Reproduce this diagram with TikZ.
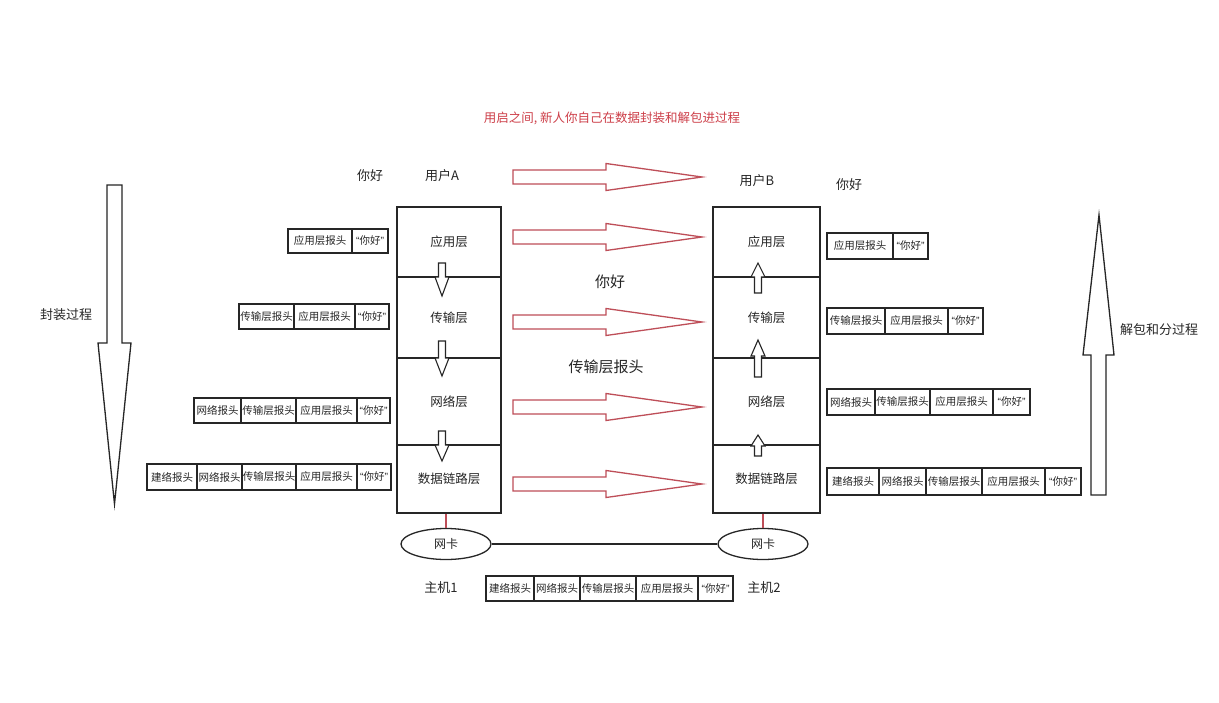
\documentclass[tikz,border=0pt]{standalone}
\usepackage{fontspec}
\setmainfont{Noto Sans CJK SC}
\newfontfamily\latinq{Liberation Sans}
\usetikzlibrary{shapes.geometric}
\definecolor{arrred}{RGB}{190,78,88}
\definecolor{titred}{RGB}{205,62,72}
\definecolor{ink}{RGB}{38,38,38}
\tikzset{
  layer/.style={draw=ink, line width=1.3pt, rectangle, inner sep=0pt, font=\fontsize{12.5}{14}\selectfont, text=ink},
  hdr/.style={draw=ink, line width=1.15pt, rectangle, inner sep=0pt, font=\fontsize{10.5}{12}\selectfont, text=ink},
  redarrow/.style={draw=arrred, line width=1.3pt, line join=miter},
  bigarrow/.style={draw=ink, line width=1.3pt, line join=miter},
  smallarrow/.style={draw=ink, line width=1.1pt, fill=white, line join=miter},
  nic/.style={draw=ink, line width=1.3pt, ellipse, minimum width=90pt, minimum height=31pt, inner sep=0pt, font=\fontsize{12}{14}\selectfont, text=ink},
  wire/.style={draw=arrred, line width=1.3pt},
  link/.style={draw=ink, line width=1.3pt},
  lbl/.style={font=\fontsize{13}{15}\selectfont, text=ink, inner sep=0pt},
  midlbl/.style={font=\fontsize{15}{17}\selectfont, text=ink, inner sep=0pt},
  titlelbl/.style={font=\fontsize{12.5}{15}\selectfont, text=titred, inner sep=0pt}
}
\newcommand{\qhi}{{\latinq “}你好{\latinq ”}}
\newcommand{\hdrbox}[6]{\node[hdr, minimum width={(#3-#2)*1pt}, minimum height={(#5-#4)*1pt}] (#1) at ({(#2+#3)/2},{(#4+#5)/2}) {#6};}
\newcommand{\layerbox}[6]{\node[layer, minimum width={(#3-#2)*1pt}, minimum height={(#5-#4)*1pt}] (#1) at ({(#2+#3)/2},{(#4+#5)/2}) {#6};}
% red hollow right arrow centred at y=#1
\newcommand{\redarr}[1]{\draw[redarrow] (513,{#1-7}) -- (606,{#1-7}) -- (606,{#1-13.5}) -- (702,#1) -- (606,{#1+13.5}) -- (606,{#1+7}) -- (513,{#1+7}) -- cycle;}
% small down arrow: x, shaft top, head base, tip
\newcommand{\downarr}[4]{\draw[smallarrow] ({#1-3.5},#2) -- ({#1+3.5},#2) -- ({#1+3.5},#3) -- ({#1+7},#3) -- (#1,#4) -- ({#1-7},#3) -- ({#1-3.5},#3) -- cycle;}
% small up arrow: x, tip, head base, shaft bottom
\newcommand{\uparr}[4]{\draw[smallarrow] (#1,#2) -- ({#1+7},#3) -- ({#1+3.5},#3) -- ({#1+3.5},#4) -- ({#1-3.5},#4) -- ({#1-3.5},#3) -- ({#1-7},#3) -- cycle;}
\begin{document}
\begin{tikzpicture}[x=1pt,y=-1pt]
\useasboundingbox[fill=white] (0,0) rectangle (1219,702);

% title
\node[titlelbl] (title) at (612,118) {用启之间, 新人你自己在数据封装和解包进过程};

% top labels
\node[lbl] (hiA) at (370,176) {你好};
\node[lbl] (userA) at (442,176) {用户A};
\node[lbl] (userB) at (757,181) {用户B};
\node[lbl] (hiB) at (849,185) {你好};

% left stack
\layerbox{L1}{397}{501}{207}{277}{应用层}
\layerbox{L2}{397}{501}{277}{358}{传输层}
\layerbox{L3}{397}{501}{358}{445}{网络层}
\layerbox{L4}{397}{501}{445}{513}{数据链路层}
% right stack
\layerbox{R1}{713}{820}{207}{277}{应用层}
\layerbox{R2}{713}{820}{277}{358}{传输层}
\layerbox{R3}{713}{820}{358}{445}{网络层}
\layerbox{R4}{713}{820}{445}{513}{数据链路层}

% small arrows inside stacks
\downarr{442}{263}{277}{296}
\downarr{442}{341}{358}{376}
\downarr{442}{431}{445}{461}
\uparr{758}{263}{277}{293}
\uparr{758}{340}{356}{377}
\uparr{758}{435}{446}{456}

% red arrows between hosts
\redarr{177}
\redarr{237}
\redarr{322}
\redarr{407}
\redarr{484}

% middle labels
\node[midlbl] (midhi) at (610,282) {你好};
\node[midlbl] (midhdr) at (606,367) {传输层报头};

% NICs
\node[nic] (nic1) at (446,544) {网卡};
\node[nic] (nic2) at (763,544) {网卡};
\draw[wire] (nic1.north) -- (nic1.north |- L4.south);
\draw[wire] (nic2.north) -- (nic2.north |- R4.south);
\draw[link] (nic1.east) -- (nic2.west);

\node[lbl] (host1) at (441,588) {主机1};
\node[lbl] (host2) at (764,588) {主机2};

% bottom frame
\hdrbox{b1}{486}{534}{576}{601}{建络报头}
\hdrbox{b2}{534}{580}{576}{601}{网络报头}
\hdrbox{b3}{580}{636}{576}{601}{传输层报头}
\hdrbox{b4}{636}{698}{576}{601}{应用层报头}
\hdrbox{b5}{698}{733}{576}{601}{\qhi}

% left headers
\hdrbox{la1}{288}{352}{229}{253}{应用层报头}
\hdrbox{la2}{352}{388}{229}{253}{\qhi}

\hdrbox{lb1}{239}{294}{304}{329}{传输层报头}
\hdrbox{lb2}{294}{355}{304}{329}{应用层报头}
\hdrbox{lb3}{355}{389}{304}{329}{\qhi}

\hdrbox{lc1}{194}{241}{398}{423}{网络报头}
\hdrbox{lc2}{241}{296}{398}{423}{传输层报头}
\hdrbox{lc3}{296}{357}{398}{423}{应用层报头}
\hdrbox{lc4}{357}{390}{398}{423}{\qhi}

\hdrbox{ld1}{147}{197}{464}{490}{建络报头}
\hdrbox{ld2}{197}{242}{464}{490}{网络报头}
\hdrbox{ld3}{242}{296}{464}{490}{传输层报头}
\hdrbox{ld4}{296}{357}{464}{490}{应用层报头}
\hdrbox{ld5}{357}{391}{464}{490}{\qhi}

% right headers
\hdrbox{ra1}{827}{893}{233}{259}{应用层报头}
\hdrbox{ra2}{893}{928}{233}{259}{\qhi}

\hdrbox{rb1}{827}{885}{308}{334}{传输层报头}
\hdrbox{rb2}{885}{948}{308}{334}{应用层报头}
\hdrbox{rb3}{948}{983}{308}{334}{\qhi}

\hdrbox{rc1}{827}{875}{389}{415}{网络报头}
\hdrbox{rc2}{875}{930}{389}{415}{传输层报头}
\hdrbox{rc3}{930}{993}{389}{415}{应用层报头}
\hdrbox{rc4}{993}{1030}{389}{415}{\qhi}

\hdrbox{rd1}{827}{879}{468}{495}{建络报头}
\hdrbox{rd2}{879}{926}{468}{495}{网络报头}
\hdrbox{rd3}{926}{982}{468}{495}{传输层报头}
\hdrbox{rd4}{982}{1045}{468}{495}{应用层报头}
\hdrbox{rd5}{1045}{1081}{468}{495}{\qhi}

% big process arrows
\draw[bigarrow] (107,185) -- (122,185) -- (122,343) -- (131,343) -- (114.5,504) -- (98,343) -- (107,343) -- cycle;
\node[lbl] (encap) at (66,315) {封装过程};
\draw[bigarrow] (1099,215) -- (1114,355) -- (1106,355) -- (1106,495) -- (1091,495) -- (1091,355) -- (1083,355) -- cycle;
\node[lbl] (decap) at (1159,330) {解包和分过程};
\end{tikzpicture}
\end{document}
